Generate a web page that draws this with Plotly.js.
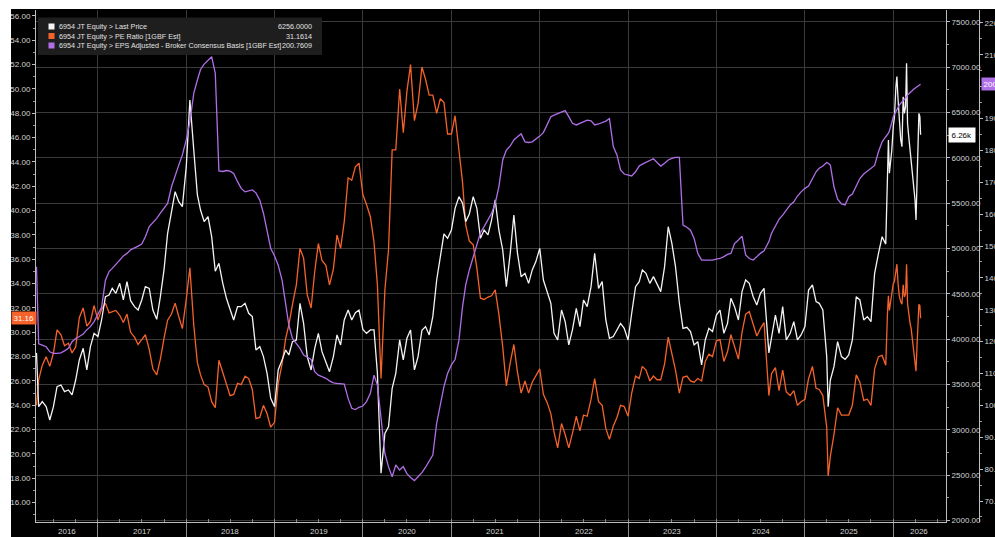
<!DOCTYPE html>
<html>
<head>
<meta charset="utf-8">
<script src="https://cdn.plot.ly/plotly-3.0.1.min.js"></script>
<style>
  html, body { margin: 0; padding: 0; background: #000; }
  #chart { width: 995px; height: 537px; }
</style>
</head>
<body>
<div id="chart"></div>
<script>
const dates = [
"2016-04-22","2016-05-01","2016-05-16","2016-06-01","2016-06-16","2016-07-01","2016-07-16","2016-08-01","2016-08-16","2016-09-01","2016-09-16","2016-10-01","2016-10-16","2016-11-01","2016-11-16","2016-12-01","2016-12-16",
"2017-01-01","2017-01-16","2017-02-01","2017-02-16","2017-03-01","2017-03-16","2017-04-01","2017-04-16","2017-05-01","2017-05-16","2017-06-01","2017-06-16","2017-07-01","2017-07-16","2017-08-01","2017-08-16","2017-09-01","2017-09-16","2017-10-01","2017-10-16","2017-11-01","2017-11-16","2017-12-01","2017-12-16",
"2018-01-01","2018-01-16","2018-02-01","2018-02-16","2018-03-01","2018-03-16","2018-04-01","2018-04-16","2018-05-01","2018-05-16","2018-06-01","2018-06-16","2018-07-01","2018-07-16","2018-08-01","2018-08-16","2018-09-01","2018-09-16","2018-10-01","2018-10-16","2018-11-01","2018-11-16","2018-12-01","2018-12-16",
"2019-01-01","2019-01-16","2019-02-01","2019-02-16","2019-03-01","2019-03-16","2019-04-01","2019-04-16","2019-05-01","2019-05-16","2019-06-01","2019-06-16","2019-07-01","2019-07-16","2019-08-01","2019-08-16","2019-09-01","2019-09-16","2019-10-01","2019-10-16","2019-11-01","2019-11-16","2019-12-01","2019-12-16",
"2020-01-01","2020-01-16","2020-02-01","2020-02-16","2020-03-01","2020-03-16","2020-04-01","2020-04-16","2020-05-01","2020-05-16","2020-06-01","2020-06-16","2020-07-01","2020-07-16","2020-08-01","2020-08-16","2020-09-01","2020-09-16","2020-10-01","2020-10-16","2020-11-01","2020-11-16","2020-12-01","2020-12-16",
"2021-01-01","2021-01-16","2021-02-01","2021-02-16","2021-03-01","2021-03-16","2021-04-01","2021-04-16","2021-05-01","2021-05-16","2021-06-01","2021-06-16","2021-07-01","2021-07-16","2021-08-01","2021-08-16","2021-09-01","2021-09-16","2021-10-01","2021-10-16","2021-11-01","2021-11-16","2021-12-01","2021-12-16",
"2022-01-01","2022-01-16","2022-02-01","2022-02-16","2022-03-01","2022-03-16","2022-04-01","2022-04-16","2022-05-01","2022-05-16","2022-06-01","2022-06-16","2022-07-01","2022-07-16","2022-08-01","2022-08-16","2022-09-01","2022-09-16","2022-10-01","2022-10-16","2022-11-01","2022-11-16","2022-12-01","2022-12-16",
"2023-01-01","2023-01-16","2023-02-01","2023-02-16","2023-03-01","2023-03-16","2023-04-01","2023-04-16","2023-05-01","2023-05-16","2023-06-01","2023-06-16","2023-07-01","2023-07-16","2023-08-01","2023-08-16","2023-09-01","2023-09-16","2023-10-01","2023-10-16","2023-11-01","2023-11-16","2023-12-01","2023-12-16",
"2024-01-01","2024-01-16","2024-02-01","2024-02-16","2024-03-01","2024-03-16","2024-04-01","2024-04-16","2024-05-01","2024-05-16","2024-06-01","2024-06-16","2024-07-01","2024-07-16","2024-08-05","2024-08-16","2024-09-01","2024-09-16","2024-10-01","2024-10-16","2024-11-01","2024-11-16","2024-12-01","2024-12-16",
"2025-01-01","2025-01-16","2025-02-01","2025-02-16","2025-03-01","2025-03-16","2025-04-01","2025-04-07","2025-04-16","2025-05-01","2025-05-16","2025-06-01","2025-06-16","2025-07-01","2025-07-16","2025-08-01","2025-08-16","2025-09-01","2025-09-16","2025-10-01","2025-10-16","2025-11-01","2025-11-16","2025-12-01",
"2025-12-08","2025-12-12","2025-12-16","2025-12-22","2025-12-26","2026-01-01","2026-01-06","2026-01-12","2026-01-16","2026-01-21","2026-01-26","2026-02-01","2026-02-06","2026-02-11","2026-02-16","2026-02-21","2026-02-25","2026-03-01","2026-03-06","2026-03-11","2026-03-16","2026-03-21","2026-03-26","2026-04-01","2026-04-05","2026-04-09","2026-04-13","2026-04-17","2026-04-21","2026-04-24"
];

const lastPrice = [
3850,3257,3312,3257,3110,3257,3478,3496,3423,3441,3386,3551,3772,3901,3662,3919,4066,
4030,4213,4470,4489,4562,4507,4617,4434,4636,4426,4360,4323,4434,4581,4562,4323,4220,4470,4765,5169,5389,5628,5518,5463,
5904,6639,6088,5592,5426,5298,5353,5132,4750,4838,4617,4452,4331,4213,4360,4360,4397,4287,4250,3882,3919,3809,3625,3349,
3257,3662,3772,3882,3827,3974,3993,4397,4176,3809,3662,3901,4066,3864,3750,3643,3809,4048,3938,4213,4323,4213,4294,4323,
4110,4066,4103,4103,3625,2522,2963,3037,3460,3625,3993,3772,4011,4103,3662,3809,4100,4140,4048,4250,4654,4930,5162,5114,
5206,5445,5573,5500,5298,5382,5573,5445,5114,5206,5151,5316,5537,5206,4985,4581,4948,5371,4948,4691,4728,4617,4765,4857,
5003,4654,4526,4397,4066,3993,4323,4195,3938,4103,4342,4140,4434,4360,4581,4948,4562,4636,4213,4011,4030,4103,4176,4121,
3993,4287,4581,4636,4765,4728,4617,4691,4599,4526,4801,5242,5059,4801,4400,4121,4132,4085,3938,3974,3717,3993,4121,4085,
4268,4323,4066,4176,4452,4360,4213,4526,4654,4617,4470,4379,4507,4562,3850,4030,4268,4066,4360,3993,4066,4195,3993,4048,
4140,4544,4599,4415,4397,4323,3809,3257,3551,3698,3974,3809,3779,3827,3993,4470,4434,4213,4250,4195,4728,4948,5132,5050,
5904,6198,5831,5978,6088,6345,6456,6786,6897,6639,6382,6198,6125,6676,6492,6566,7044,6382,6235,6088,5978,5831,5684,5537,5316,5720,6198,6492,6456,6256
];

const peRatio = [
24.0,26.1,27.3,28.0,27.2,28.3,30.2,29.8,28.9,29.1,28.3,28.8,31.2,32.0,30.5,30.9,32.2,
31.0,31.9,32.4,31.6,31.7,31.8,31.4,30.8,31.5,30.0,29.6,29.0,29.4,29.8,28.6,27.0,26.5,27.8,29.5,31.0,31.5,32.4,31.3,30.3,
32.7,35.3,30.6,27.5,26.5,25.7,25.5,24.3,23.8,27.7,26.7,25.7,24.8,24.9,25.8,25.7,26.4,26.2,25.3,22.9,23.0,24.0,23.3,22.2,
22.6,25.8,27.4,29.5,30.6,32.3,33.9,36.9,36.1,33.1,32.0,35.0,37.3,35.9,35.5,33.9,35.2,38.0,36.9,39.1,42.7,42.5,43.6,43.9,
41.3,40.5,39.5,37.4,33.9,26.2,33.5,36.8,45.0,45.0,50.0,46.4,49.8,52.0,47.4,48.8,51.8,50.8,49.5,49.5,48.0,49.2,48.9,46.3,
46.3,47.8,45.0,42.3,38.8,37.5,37.2,35.3,32.8,32.7,32.9,33.0,33.5,31.5,28.8,25.6,27.5,29.0,26.7,25.0,26.0,25.0,25.9,26.4,
27.0,24.9,24.2,23.3,21.8,20.5,22.5,21.6,20.5,21.7,23.1,21.9,23.2,23.1,24.5,26.2,24.3,24.0,22.1,21.2,22.3,23.0,24.0,23.9,
23.1,25.0,26.4,26.2,27.2,26.9,26.0,26.4,26.1,26.1,27.4,29.6,28.3,26.9,25.0,26.3,26.4,26.0,25.9,26.2,26.0,27.6,28.2,28.0,
29.3,29.4,27.6,28.4,29.8,28.8,27.8,30.0,31.5,31.7,30.6,29.7,30.3,30.8,24.8,26.6,27.1,25.2,26.9,25.1,24.8,25.2,24.0,24.3,
24.5,26.2,27.2,25.4,25.3,24.8,22.2,18.2,19.8,21.6,23.8,23.2,23.2,23.2,24.0,26.5,25.9,24.4,24.5,24.0,27.0,28.0,28.1,27.3,
31.5,33.0,31.8,32.5,33.0,34.0,34.2,35.4,35.6,34.0,33.0,32.5,32.3,33.9,32.9,33.2,35.6,32.4,31.5,30.8,30.3,29.3,28.4,27.6,26.8,28.8,30.9,32.3,32.2,31.1614
];

const epsAdjusted = [
143.5,119.3,118.9,118.4,116.8,116.3,116.3,116.5,117.1,117.9,120.0,121.0,121.6,122.4,123.7,124.7,126.3,
128.9,130.8,139.3,142.0,143.0,144.4,145.6,146.9,147.7,148.8,149.3,150.0,150.6,152.9,156.1,157.3,158.7,160.3,161.8,163.4,168.6,172.3,175.4,178.6,
183.3,189.0,197.9,202.1,205.4,207.1,208.4,209.4,204.2,173.6,173.4,173.7,173.5,172.8,170.2,168.1,167.0,167.3,167.6,166.7,164.4,160.3,155.0,149.3,
146.9,144.0,139.3,131.5,125.2,121.0,119.3,117.9,115.8,115.1,114.4,110.6,109.5,109.0,108.5,107.7,107.1,106.9,106.9,106.7,102.2,99.1,98.7,99.4,
99.8,101.2,103.8,109.5,106.4,96.5,84.9,80.7,77.6,81.3,79.7,80.8,78.6,77.4,76.4,77.6,78.9,80.6,82.6,84.4,94.4,100.6,105.9,110.0,
112.7,114.4,120.5,131.0,137.8,142.5,146.7,150.8,154.2,156.1,158.2,160.3,163.4,168.6,177.0,180.1,181.4,183.3,184.3,185.2,182.7,182.5,182.7,183.5,
184.5,185.6,188.0,190.6,191.1,191.6,192.1,192.5,190.6,188.5,188.0,188.5,189.0,189.5,189.3,188.0,188.3,188.7,189.2,190.0,181.2,178.6,173.9,172.6,
172.4,172.0,173.3,175.1,175.7,176.2,176.8,177.4,176.2,175.1,176.0,177.0,177.5,177.8,177.8,156.6,155.9,155.0,152.4,147.7,145.6,145.6,145.6,145.6,
145.9,146.1,146.7,147.4,147.7,150.8,151.9,153.1,147.2,146.1,145.6,146.7,147.7,148.5,151.4,154.0,156.1,158.4,159.7,161.3,162.9,163.9,165.7,167.0,
168.1,168.8,171.2,173.3,174.4,175.1,176.2,176.0,175.4,168.6,164.7,163.2,162.9,165.5,166.3,168.6,171.2,172.6,173.6,174.4,175.3,179.6,182.7,184.3,
184.8,185.4,186.2,187.5,188.7,190.6,191.4,192.5,193.1,193.5,194.2,194.8,195.2,195.7,196.1,196.4,196.8,197.4,197.7,198.1,198.4,198.8,199.2,199.5,199.7,200.0,200.2,200.4,200.6,200.7609
];

const seriesNames = [
  "6954 JT Equity > Last Price",
  "6954 JT Equity > PE Ratio [1GBF Est]",
  "6954 JT Equity > EPS Adjusted - Broker Consensus Basis [1GBF Est]"
];
const yearLabels = ["2016","2017","2018","2019","2020","2021","2022","2023","2024","2025","2026"];
const yearLabelDates = ["2016-08-26","2017-07-02","2018-07-02","2019-07-02","2020-07-02","2021-07-02","2022-07-02","2023-07-02","2024-07-02","2025-07-02","2026-04-19"];

const C_PRICE = "#f4f4f4", C_PE = "#f5622a", C_EPS = "#b06fe6";
const FONT = "'Liberation Sans', Arial, sans-serif";
const TXT = "#d4d4d4";

// pixel helpers for paper coordinates (plot area: x 36..995, y 10..522)
const px = x => (x - 36) / 959;
const py = y => (522 - y) / 512;

const traces = [
  { x: dates, y: lastPrice, yaxis: "y2", type: "scatter", mode: "lines", line: { color: C_PRICE, width: 1.3 }, name: seriesNames[0] },
  { x: dates, y: peRatio, yaxis: "y", type: "scatter", mode: "lines", line: { color: C_PE, width: 1.3 }, name: seriesNames[1] },
  { x: dates, y: epsAdjusted, yaxis: "y3", type: "scatter", mode: "lines", line: { color: C_EPS, width: 1.3 }, name: seriesNames[2] }
];

const axisCommon = {
  showline: true, linecolor: "#bdbdbd", linewidth: 1, zeroline: false,
  ticks: "outside", ticklen: 3, tickcolor: "#bdbdbd", tickwidth: 1,
  tickfont: { family: FONT, size: 8, color: TXT }, tickformat: ".2f", fixedrange: true
};

const lastN = dates.length - 1;
const annotations = [];
const shapes = [];

// white outer strips
shapes.push({ type: "rect", xref: "paper", yref: "paper", x0: -0.06, x1: 1.02, y0: py(9), y1: 1.05, fillcolor: "#ffffff", line: { width: 0 }, layer: "above" });
shapes.push({ type: "rect", xref: "paper", yref: "paper", x0: -0.06, x1: px(11), y0: -0.05, y1: 1.05, fillcolor: "#ffffff", line: { width: 0 }, layer: "above" });

// legend box
shapes.push({ type: "rect", xref: "paper", yref: "paper", x0: px(38), x1: px(322), y0: py(55), y1: py(17.5), fillcolor: "#1e1e1e", line: { width: 0 }, layer: "above" });
const rowY = [26.5, 36, 45.5];
const rowCol = [C_PRICE, C_PE, C_EPS];
const rowVal = [lastPrice[lastN].toFixed(4), peRatio[lastN].toFixed(4), epsAdjusted[lastN].toFixed(4)];
for (let i = 0; i < 3; i++) {
  shapes.push({ type: "rect", xref: "paper", yref: "paper", x0: px(48.5), x1: px(54.5), y0: py(rowY[i] + 3), y1: py(rowY[i] - 3), fillcolor: rowCol[i], line: { width: 0 }, layer: "above" });
  annotations.push({ xref: "paper", yref: "paper", x: px(57), y: py(rowY[i]), xanchor: "left", yanchor: "middle", text: seriesNames[i], showarrow: false, font: { family: FONT, size: 7.2, color: "#e2e2e2" } });
  annotations.push({ xref: "paper", yref: "paper", x: px(314), y: py(rowY[i]), xanchor: "right", yanchor: "middle", text: rowVal[i], showarrow: false, font: { family: FONT, size: 7.2, color: "#e2e2e2" } });
}

// year labels
for (let i = 0; i < yearLabels.length; i++) {
  annotations.push({ xref: "x", yref: "paper", x: yearLabelDates[i], y: py(531), xanchor: "center", yanchor: "middle", text: yearLabels[i], showarrow: false, font: { family: FONT, size: 8, color: TXT } });
}

// last value tags
annotations.push({ xref: "paper", yref: "y", x: px(11), y: peRatio[lastN], xanchor: "left", yanchor: "middle", text: peRatio[lastN].toFixed(2), showarrow: false, bgcolor: C_PE, borderpad: 1.5, font: { family: FONT, size: 8, color: "#ffffff" } });
annotations.push({ xref: "paper", yref: "y2", x: px(948), y: lastPrice[lastN], xanchor: "left", yanchor: "middle", text: (lastPrice[lastN] / 1000).toFixed(2) + "k", showarrow: false, bgcolor: "#ffffff", borderpad: 2.5, font: { family: FONT, size: 8, color: "#000000" } });
annotations.push({ xref: "paper", yref: "y3", x: px(981), y: epsAdjusted[lastN], xanchor: "left", yanchor: "middle", text: epsAdjusted[lastN].toFixed(2), showarrow: false, bgcolor: C_EPS, borderpad: 1.5, font: { family: FONT, size: 8, color: "#ffffff" } });

const layout = {
  width: 995, height: 537,
  margin: { l: 36, r: 0, t: 10, b: 15, pad: 0 },
  paper_bgcolor: "#000000", plot_bgcolor: "#000000",
  showlegend: false, hovermode: false,
  xaxis: {
    type: "date", domain: [0, px(946)], range: ["2016-04-20", "2026-08-07"],
    tick0: "2017-01-01", dtick: "M12", ticks: "outside", ticklen: 15, tickcolor: "#8c8c8c", tickwidth: 1,
    showticklabels: false, showgrid: true, gridcolor: "#3a3a3a", gridwidth: 1,
    showline: true, linecolor: "#bdbdbd", linewidth: 1, zeroline: false, fixedrange: true,
    minor: { dtick: "M3", ticks: "inside", ticklen: 3, tickcolor: "#8c8c8c", showgrid: false }
  },
  yaxis: Object.assign({}, axisCommon, {
    range: [14.41, 56.49], tick0: 0, dtick: 2, showgrid: false,
    minor: { dtick: 1, ticks: "outside", ticklen: 2, tickcolor: "#9a9a9a", showgrid: false }
  }),
  yaxis2: Object.assign({}, axisCommon, {
    overlaying: "y", side: "right", anchor: "x", range: [1985, 7632], tick0: 0, dtick: 500,
    showgrid: true, gridcolor: "#3a3a3a", gridwidth: 1,
    minor: { dtick: 250, ticks: "outside", ticklen: 2, tickcolor: "#9a9a9a", showgrid: false }
  }),
  yaxis3: Object.assign({}, axisCommon, {
    overlaying: "y", side: "right", anchor: "free", position: px(979), range: [63.41, 224.07], tick0: 0, dtick: 10,
    showgrid: false,
    minor: { dtick: 5, ticks: "outside", ticklen: 2, tickcolor: "#9a9a9a", showgrid: false }
  }),
  shapes: shapes,
  annotations: annotations
};

Plotly.newPlot("chart", traces, layout, { staticPlot: true, displayModeBar: false });
</script>
</body>
</html>
